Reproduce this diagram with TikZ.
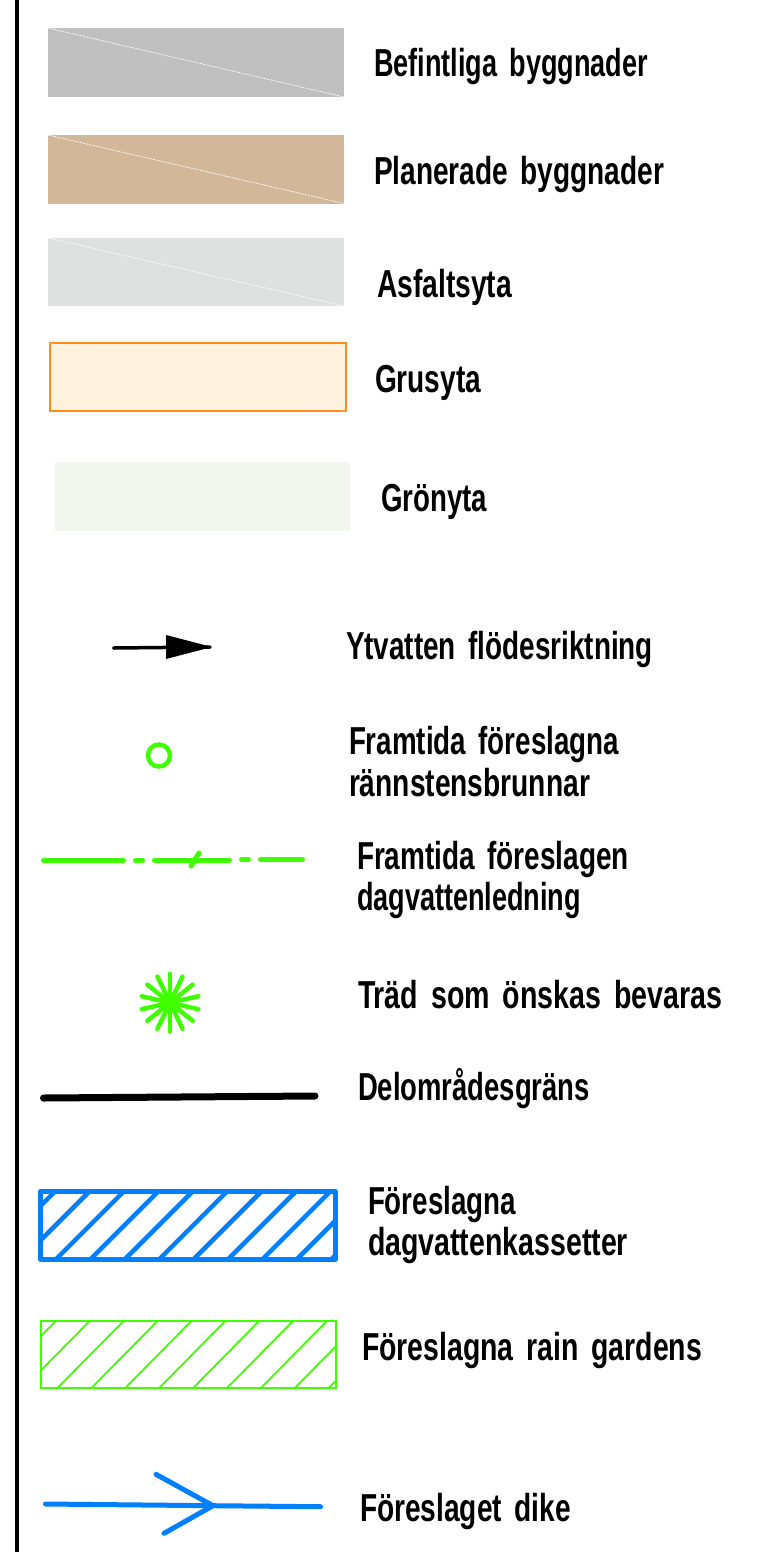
\documentclass[tikz,border=0pt]{standalone}
\usepackage{graphicx}
\usepackage{fontspec}
\setmainfont{Liberation Sans}
\definecolor{lgreen}{HTML}{40FF00}
\definecolor{lblue}{HTML}{0080FF}
\tikzset{
  lab/.style={anchor=base west,inner sep=0pt,outer sep=0pt,font=\fontsize{39}{39}\selectfont\bfseries},
  diag/.style={white,line width=0.7pt,dash pattern=on 2pt off 1pt},
  gline/.style={lgreen,line width=5pt,line cap=round},
  bline/.style={lblue,line width=5pt,line cap=round}
}
\newcommand{\lgnd}[5]{\node[lab] (#1) at (#2,#3) {\resizebox{#4pt}{\height}{#5}};}
\newcommand{\wsp}{\hspace{0.45em}}
\begin{document}
\begin{tikzpicture}[x=1pt,y=-1pt]
\useasboundingbox (0,0) rectangle (764,1552);
\fill[white] (0,0) rectangle (764,1552);
\draw[black,line width=4pt] (16.5,0) -- (16.5,1552);
% swatches
\definecolor{sa}{HTML}{C0C0C0}\definecolor{sb}{HTML}{D2B799}\definecolor{sc}{HTML}{DFE1E0}
\definecolor{sd}{HTML}{FFF3E0}\definecolor{se}{HTML}{F1F6EF}\definecolor{so}{HTML}{FF8C1A}
\fill[sa] (48,28) rectangle (344,97);
\draw[diag] (48,28) -- (344,97);
\fill[sb] (48,135) rectangle (344,203.5);
\draw[diag] (48,135) -- (344,203.5);
\fill[sc] (48,238) rectangle (344,306);
\draw[diag] (48,238) -- (344,306);
\filldraw[fill=sd,draw=so,line width=1.6pt] (50,343) rectangle (346,411);
\draw[white,opacity=.35,line width=0.6pt,dash pattern=on 2pt off 1pt] (50,343) -- (346,411);
\fill[se] (55,462) rectangle (350,531);
\draw[white,opacity=.5,line width=0.6pt,dash pattern=on 2pt off 1pt] (55,462) -- (350,531);
% flow arrow
\draw[black,line width=3.5pt,line cap=round] (113.7,648) -- (210,647);
\fill[black] (166,635) -- (212,647) -- (166,659) -- cycle;
% gully
\draw[lgreen,line width=4.5pt] (159,755.5) circle (11);
% dashed pipe
\draw[gline] (43.5,860.5) -- (123.5,860.5);
\draw[gline] (135.5,860.3) -- (142.5,860.3);
\draw[gline] (154.5,860) -- (229.5,860);
\draw[gline] (241.5,859.7) -- (248.5,859.7);
\draw[gline] (260.5,859.5) -- (302.5,859.5);
\draw[gline] (191,866) -- (199,853);
% tree
\foreach \a in {90,115.71,141.43,167.14,192.86,218.57,244.29}
  \draw[lgreen,line width=4.5pt,line cap=round] (170,1002.7) ++(\a:-29) -- ++(\a:58);
% boundary
\draw[black,line width=7pt,line cap=round] (43.5,1098) -- (315,1096);
% blue hatch
\begin{scope}
\clip (40.5,1191.5) rectangle (335.5,1259.5);
\foreach \i in {0,...,10}
  \draw[lblue,line width=4.5pt] ({55.5+34.4*\i},1191) -- ({-14.5+34.4*\i},1261);
\end{scope}
\draw[lblue,line width=5pt,line join=round] (40.5,1191.5) rectangle (335.5,1259.5);
% green hatch
\begin{scope}
\clip (41,1321) rectangle (336,1388);
\foreach \i in {0,...,10}
  \draw[lgreen,line width=1.8pt] ({56.7+33.9*\i},1320) -- ({56.7+33.9*\i-68},1389);
\end{scope}
\draw[lgreen,line width=2pt] (41,1321) rectangle (336,1388);
% ditch arrow
\draw[bline,line join=round] (45.5,1504) -- (213,1505.7) -- (320.5,1506.7);
\draw[bline,line join=round] (156,1474.3) -- (213,1505.7) -- (164,1533.3);
% labels
\lgnd{t1}{374}{77}{274}{Befintliga\wsp byggnader}
\lgnd{t2}{374}{184}{290}{Planerade\wsp byggnader}
\lgnd{t3}{377}{297}{135}{Asfaltsyta}
\lgnd{t4}{375}{392}{106}{Grusyta}
\lgnd{t5}{381}{511}{106}{Grönyta}
\lgnd{t6}{346}{659}{307}{Ytvatten\wsp flödesriktning}
\lgnd{t7}{349}{754}{270}{Framtida\wsp föreslagna}
\lgnd{t8}{349}{796}{241}{rännstensbrunnar}
\lgnd{t9}{357}{869}{272}{Framtida\wsp föreslagen}
\lgnd{t10}{357}{910}{224}{dagvattenledning}
\lgnd{t11}{358}{1008}{364}{Träd\wsp som\wsp önskas\wsp bevaras}
\lgnd{t12}{358}{1100}{232}{Delområdesgräns}
\lgnd{t13}{368}{1214}{148}{Föreslagna}
\lgnd{t14}{368}{1255}{260}{dagvattenkassetter}
\lgnd{t15}{362}{1360}{340}{Föreslagna\wsp rain\wsp gardens}
\lgnd{t16}{360}{1521}{211}{Föreslaget\wsp dike}
\end{tikzpicture}
\end{document}
